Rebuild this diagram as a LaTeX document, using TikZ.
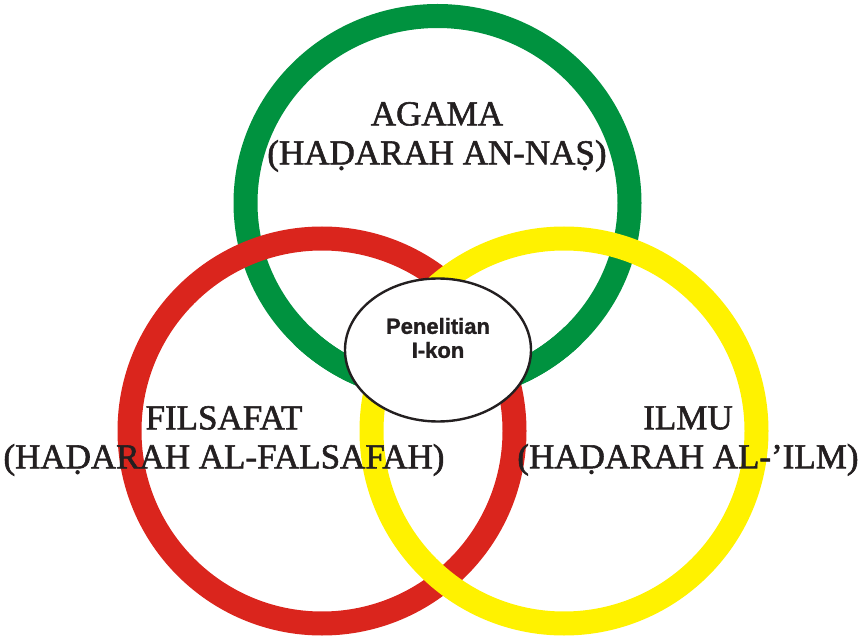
\documentclass[tikz,border=0pt]{standalone}
\usepackage{fontspec}
\setmainfont{Liberation Serif}
\newfontfamily\realmfont[FakeBold=1.6]{Liberation Serif}
\newfontfamily\ikonfont[FakeBold=1.2]{Liberation Sans}
\usepackage{tikz}
\usetikzlibrary{shapes.geometric}

\definecolor{ringgreen}{RGB}{0,146,63}
\definecolor{ringred}{RGB}{218,37,29}
\definecolor{ringyellow}{RGB}{255,242,0}
\definecolor{inkgrey}{RGB}{35,31,32}

\begin{document}
\begin{tikzpicture}[x=1pt, y=-1pt,
    ring/.style={line width=24pt},
    realm/.style={align=center, inner sep=0pt, text=inkgrey, font=\realmfont\fontsize{35}{39}\selectfont},
    hub/.style={draw=inkgrey, line width=2.4pt, fill=white, ellipse, minimum width=186pt, minimum height=143pt}]

\useasboundingbox (0,0) rectangle (865,636);

\draw[ring, ringgreen] (437.5, 203) ellipse (192 and 187);
\draw[ring, ringred] (322, 431) circle (192.5);
\draw[ring, ringyellow] (564, 431) circle (192.5);
\draw[ring, ringgreen] (437.5, 203) ++(45:192 and 187) arc[start angle=45, end angle=135, x radius=192, y radius=187];  % green over the inner crossings

\node (core) at (438, 350) [hub] {};
\node (ikon) at ([yshift=12pt]core.center) [align=center, text=inkgrey, font=\ikonfont\bfseries\fontsize{22}{24}\selectfont] {Penelitian\\I-kon};

\node (agama) at (437, 137) [realm] {AGAMA\\(HAḌARAH AN-NAṢ)};
\node (filsafat) at (224, 441) [realm] {FILSAFAT\\(HAḌARAH AL-FALSAFAH)};
\node (ilmu) at (688, 441) [realm] {ILMU\\(HAḌARAH AL-’ILM)};
\end{tikzpicture}
\end{document}
